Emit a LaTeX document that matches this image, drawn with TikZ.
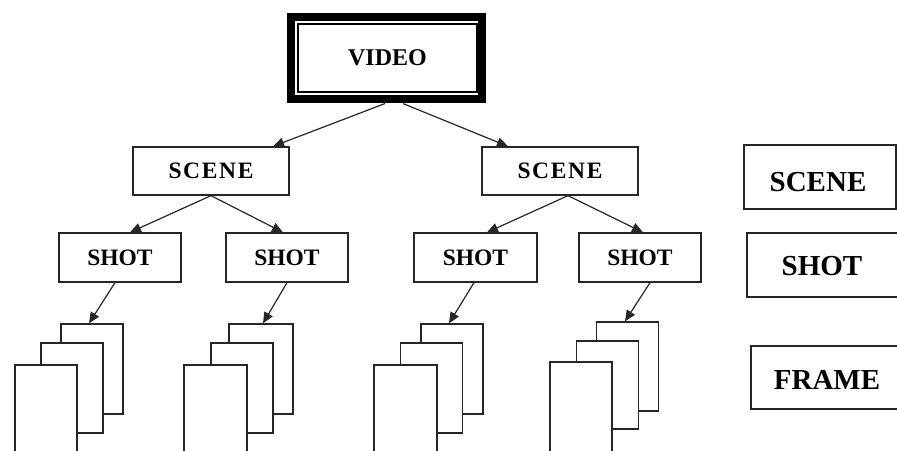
\documentclass[tikz,border=0pt]{standalone}
\usepackage{fontspec}
\setmainfont{Liberation Serif}
\usetikzlibrary{arrows.meta,calc}
\begin{document}
\begin{tikzpicture}[x=1pt,y=-1pt,
  treebox/.style={draw=black!85,line width=1.3pt,fill=white,inner sep=0pt,
    font=\fontsize{23.5}{26}\selectfont\bfseries},
  legbox/.style={draw=black!85,line width=1.3pt,fill=white,inner sep=0pt},
  legtext/.style={inner sep=0pt,font=\fontsize{29}{32}\selectfont\bfseries},
  framebox/.style={draw=black!85,line width=1.3pt,fill=white,inner sep=0pt,
    minimum width=62pt},
  conn/.style={draw=black!85,line width=1.2pt,-{Triangle[length=11pt,width=9.5pt]}}]
\path[use as bounding box,clip] (0,0) rectangle (897,450);

% VIDEO
\node[draw=black,line width=1.1pt,fill=white,inner sep=0pt,minimum width=179pt,minimum height=68pt,
  font=\fontsize{24}{26}\selectfont\bfseries] (video) at (387.5,58) {VIDEO};
\draw[line width=8.5pt] ($(video.north west)+(-6.5,-6.5)$) rectangle ($(video.south east)+(4.5,6.5)$);
\coordinate (vbl) at ($(video.south)+(-2.5,11)$);
\coordinate (vbr) at ($(video.south)+(15.5,11)$);

% SCENES
\node[treebox,minimum width=156pt,minimum height=48pt] (sceneL) at (211,171) {\addfontfeature{LetterSpace=7}SCENE};
\node[treebox,minimum width=156pt,minimum height=48pt] (sceneR) at (560,171) {\addfontfeature{LetterSpace=7}SCENE};

% SHOTS
\node[treebox,minimum width=122pt,minimum height=49pt] (shot1) at (120,257.5) {SHOT};
\node[treebox,minimum width=122pt,minimum height=49pt] (shot2) at (287,257.5) {SHOT};
\node[treebox,minimum width=123pt,minimum height=49pt] (shot3) at (475.5,257.5) {SHOT};
\node[treebox,minimum width=122pt,minimum height=49pt] (shot4) at (640,257.5) {SHOT};

% FRAMES
\node[framebox,minimum height=90pt] (f1a) at (92,369) {};
\node[framebox,minimum height=90pt] (f1b) at (72,388) {};
\node[framebox,minimum height=105pt] (f1c) at (46,417.5) {};
\node[framebox,minimum width=64pt,minimum height=90pt] (f2a) at (261,369) {};
\node[framebox,minimum height=90pt] (f2b) at (242,388) {};
\node[framebox,minimum width=63pt,minimum height=105pt] (f2c) at (215.5,417.5) {};
\node[framebox,minimum height=90pt] (f3a) at (452,369) {};
\node[framebox,minimum height=90pt] (f3b) at (431.5,388) {};
\node[framebox,minimum width=63pt,minimum height=105pt] (f3c) at (405.5,417.5) {};
\node[framebox,minimum height=89pt] (f4a) at (627.5,366.5) {};
\node[framebox,minimum height=88pt] (f4b) at (607.5,385) {};
\node[framebox,minimum height=105pt] (f4c) at (581,414.5) {};

% connectors
\draw[conn] (vbl) -- ([xshift=62pt]sceneL.north);
\draw[conn] (vbr) -- ([xshift=-52pt]sceneR.north);
\draw[conn] (sceneL.south) -- ([xshift=10pt]shot1.north);
\draw[conn] (sceneL.south) -- ([xshift=-4pt]shot2.north);
\draw[conn] ([xshift=8pt]sceneR.south) -- ([xshift=11.5pt]shot3.north);
\draw[conn] ([xshift=8pt]sceneR.south) -- ([xshift=3pt]shot4.north);
\draw[conn] ([xshift=-5pt]shot1.south) -- ([xshift=-3pt]f1a.north);
\draw[conn] (shot2.south) -- ([xshift=2pt]f2a.north);
\draw[conn] ([xshift=-1.5pt]shot3.south) -- ([xshift=-3pt]f3a.north);
\draw[conn] ([xshift=10pt]shot4.south) -- ([xshift=-2.5pt]f4a.north);

% legend
\node[legbox,minimum width=152pt,minimum height=64pt] (lscene) at (820,177) {};
\node[legtext] (lscenet) at (818,182) {SCENE};
\node[legbox,minimum width=153pt,minimum height=64pt] (lshot) at (823.5,265) {};
\node[legtext] (lshott) at (822,266) {SHOT};
\node[legbox,minimum width=152pt,minimum height=63pt] (lframe) at (827,377.5) {};
\node[legtext] (lframet) at (827,380) {FRAME};
\end{tikzpicture}
\end{document}
